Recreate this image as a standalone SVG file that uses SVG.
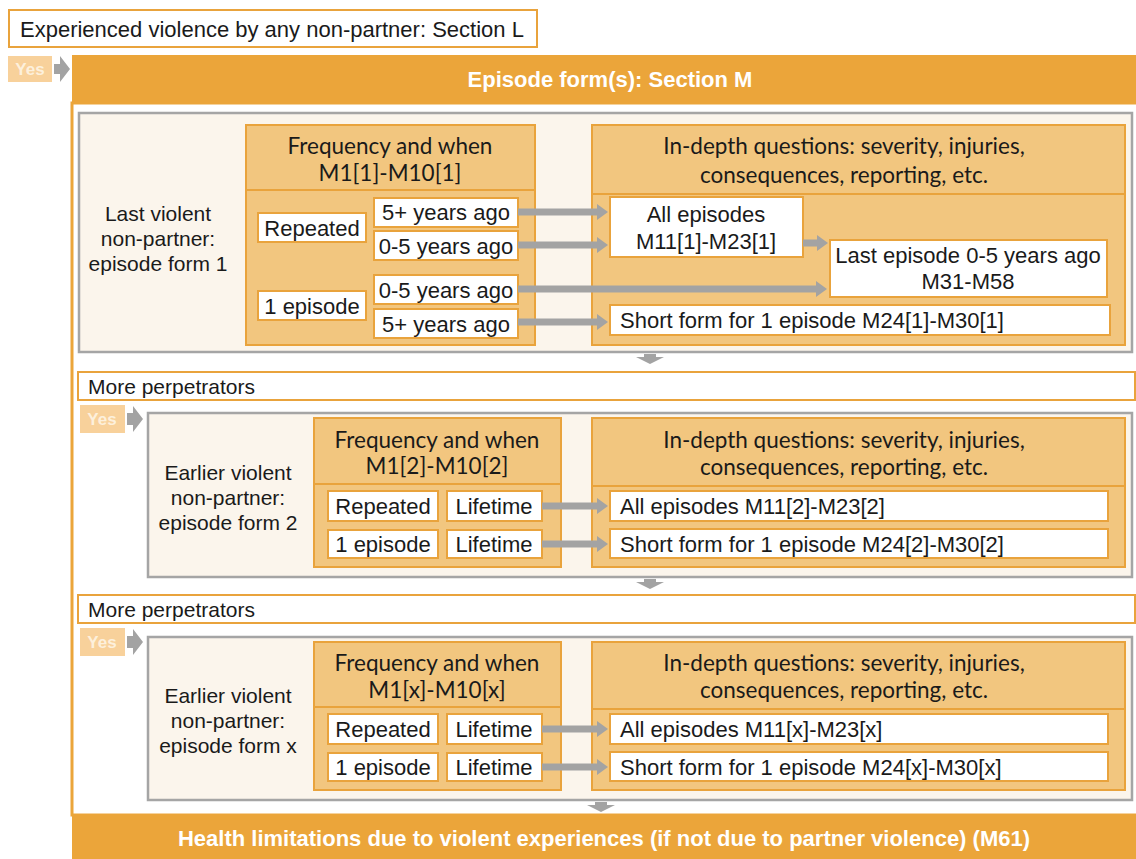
<svg xmlns="http://www.w3.org/2000/svg" width="1136" height="859" viewBox="0 0 1136 859">
<defs>
<style>
.t{font-family:"Liberation Sans",Arial,sans-serif;font-size:22px;fill:#1a1a1a}
.l{font-family:"Liberation Sans",Arial,sans-serif;font-size:21px;fill:#1a1a1a}
.c{font-family:Lato,"Open Sans",sans-serif;font-size:22.5px;fill:#1a1a1a}
.w{font-family:"Liberation Sans",Arial,sans-serif;font-weight:bold;fill:#ffffff}
.ob{fill:#ffffff;stroke:#e9a33c;stroke-width:2}
.sec{fill:#fbf5ec;stroke:#a5a5a5;stroke-width:2.5}
.grp{fill:#f2c67f;stroke:#e9a33c;stroke-width:2}
.div{stroke:#e9a33c;stroke-width:2}
.band{fill:#eba53a}
.yes{fill:#f8d19b}
.yt{font-family:"Liberation Sans",Arial,sans-serif;font-size:17px;font-weight:bold;fill:#fdf0dc}
.arr{stroke:#a3a3a3;stroke-width:7;fill:none}
.ga{fill:#a3a3a3}
</style>
<marker id="ah" markerUnits="userSpaceOnUse" markerWidth="12" markerHeight="18" refX="1" refY="9" orient="auto">
<path d="M0,1 L11,9 L0,17 Z" fill="#a3a3a3"/>
</marker>
</defs>
<rect width="1136" height="859" fill="#ffffff"/>

<g id="sectionL">
<rect class="ob" x="9" y="10" width="528" height="37"/>
<text class="t" x="20" y="37">Experienced violence by any non-partner: Section L</text>
</g>

<g id="yes1">
<rect class="yes" x="8" y="56" width="44" height="26"/>
<text class="yt" x="30" y="75" text-anchor="middle">Yes</text>
<path class="ga" d="M54,64 L60,64 L60,56 L70,69 L60,82 L60,74 L54,74 Z"/>
</g>

<g id="outer">
<rect x="72" y="103" width="1066" height="712" fill="#ffffff" stroke="#eba53a" stroke-width="3"/>
<rect class="band" x="72" y="55" width="1064" height="48"/>
<text class="w" x="610" y="87" font-size="22" text-anchor="middle">Episode form(s): Section M</text>
</g>

<g id="form1">
<rect class="sec" x="79" y="113" width="1053" height="239"/>
<text class="l" x="158" y="221" text-anchor="middle">Last violent</text>
<text class="l" x="158" y="246" text-anchor="middle">non-partner:</text>
<text class="l" x="158" y="271" text-anchor="middle">episode form 1</text>
</g>
<g id="freq1">
<rect class="grp" x="246" y="125" width="289" height="220"/>
<line class="div" x1="246" y1="190" x2="535" y2="190"/>
<text class="c" x="390" y="154" text-anchor="middle">Frequency and when</text>
<text class="c" x="390" y="181" text-anchor="middle">M1[1]-M10[1]</text>
<rect class="ob" x="258" y="213" width="108" height="29"/>
<text class="t" x="312" y="236" text-anchor="middle">Repeated</text>
<rect class="ob" x="374" y="198" width="144" height="29"/>
<text class="t" x="446" y="220" text-anchor="middle">5+ years ago</text>
<rect class="ob" x="374" y="231" width="144" height="29"/>
<text class="t" x="446" y="254" text-anchor="middle">0-5 years ago</text>
<rect class="ob" x="258" y="291" width="108" height="29"/>
<text class="t" x="312" y="314" text-anchor="middle">1 episode</text>
<rect class="ob" x="374" y="275" width="144" height="29"/>
<text class="t" x="446" y="298" text-anchor="middle">0-5 years ago</text>
<rect class="ob" x="374" y="309" width="144" height="29"/>
<text class="t" x="446" y="332" text-anchor="middle">5+ years ago</text>
</g>
<g id="depth1">
<rect class="grp" x="592" y="125" width="533" height="220"/>
<line class="div" x1="592" y1="194" x2="1125" y2="194"/>
<text class="c" x="844" y="154" text-anchor="middle">In-depth questions: severity, injuries,</text>
<text class="c" x="844" y="183" text-anchor="middle">consequences, reporting, etc.</text>
<rect class="ob" x="610" y="197" width="193" height="60"/>
<text class="t" x="706" y="222" text-anchor="middle">All episodes</text>
<text class="t" x="706" y="249" text-anchor="middle">M11[1]-M23[1]</text>
<rect class="ob" x="830" y="240" width="277" height="57"/>
<text class="t" x="968" y="263" text-anchor="middle">Last episode 0-5 years ago</text>
<text class="t" x="968" y="289" text-anchor="middle">M31-M58</text>
<rect class="ob" x="610" y="305" width="500" height="30"/>
<text class="t" x="620" y="328">Short form for 1 episode M24[1]-M30[1]</text>
</g>

<g id="more1">
<rect class="ob" x="78" y="372" width="1057" height="28"/>
<text class="l" x="88" y="394">More perpetrators</text>
</g>
<g id="yes2">
<rect class="yes" x="80" y="405" width="45" height="28"/>
<text class="yt" x="102" y="425" text-anchor="middle">Yes</text>
<path class="ga" d="M127,413 L133,413 L133,406 L143,419 L133,432 L133,425 L127,425 Z"/>
</g>

<g id="form2">
<rect class="sec" x="148" y="413" width="984" height="164"/>
<text class="l" x="228" y="480" text-anchor="middle">Earlier violent</text>
<text class="l" x="228" y="505" text-anchor="middle">non-partner:</text>
<text class="l" x="228" y="530" text-anchor="middle">episode form 2</text>
</g>
<g id="freq2">
<rect class="grp" x="314" y="418" width="247" height="149"/>
<line class="div" x1="314" y1="484" x2="561" y2="484"/>
<text class="c" x="437" y="448" text-anchor="middle">Frequency and when</text>
<text class="c" x="437" y="474" text-anchor="middle">M1[2]-M10[2]</text>
<rect class="ob" x="328" y="491" width="110" height="30"/>
<text class="t" x="383" y="514" text-anchor="middle">Repeated</text>
<rect class="ob" x="447" y="491" width="95" height="30"/>
<text class="t" x="494" y="514" text-anchor="middle">Lifetime</text>
<rect class="ob" x="328" y="530" width="110" height="28"/>
<text class="t" x="383" y="552" text-anchor="middle">1 episode</text>
<rect class="ob" x="447" y="530" width="95" height="28"/>
<text class="t" x="494" y="552" text-anchor="middle">Lifetime</text>
</g>
<g id="depth2">
<rect class="grp" x="592" y="418" width="533" height="149"/>
<line class="div" x1="592" y1="486" x2="1125" y2="486"/>
<text class="c" x="844" y="448" text-anchor="middle">In-depth questions: severity, injuries,</text>
<text class="c" x="844" y="475" text-anchor="middle">consequences, reporting, etc.</text>
<rect class="ob" x="610" y="491" width="498" height="30"/>
<text class="t" x="620" y="514">All episodes M11[2]-M23[2]</text>
<rect class="ob" x="610" y="529" width="498" height="29"/>
<text class="t" x="620" y="552">Short form for 1 episode M24[2]-M30[2]</text>
</g>

<g id="more2">
<rect class="ob" x="78" y="595" width="1057" height="28"/>
<text class="l" x="88" y="617">More perpetrators</text>
</g>
<g id="yes3">
<rect class="yes" x="80" y="628" width="45" height="28"/>
<text class="yt" x="102" y="648" text-anchor="middle">Yes</text>
<path class="ga" d="M127,636 L133,636 L133,629 L143,642 L133,655 L133,648 L127,648 Z"/>
</g>

<g id="formx">
<rect class="sec" x="148" y="637" width="984" height="163"/>
<text class="l" x="228" y="703" text-anchor="middle">Earlier violent</text>
<text class="l" x="228" y="728" text-anchor="middle">non-partner:</text>
<text class="l" x="228" y="753" text-anchor="middle">episode form x</text>
</g>
<g id="freqx">
<rect class="grp" x="314" y="642" width="247" height="148"/>
<line class="div" x1="314" y1="707" x2="561" y2="707"/>
<text class="c" x="437" y="671" text-anchor="middle">Frequency and when</text>
<text class="c" x="437" y="698" text-anchor="middle">M1[x]-M10[x]</text>
<rect class="ob" x="328" y="714" width="110" height="30"/>
<text class="t" x="383" y="737" text-anchor="middle">Repeated</text>
<rect class="ob" x="447" y="714" width="95" height="30"/>
<text class="t" x="494" y="737" text-anchor="middle">Lifetime</text>
<rect class="ob" x="328" y="753" width="110" height="28"/>
<text class="t" x="383" y="775" text-anchor="middle">1 episode</text>
<rect class="ob" x="447" y="753" width="95" height="28"/>
<text class="t" x="494" y="775" text-anchor="middle">Lifetime</text>
</g>
<g id="depthx">
<rect class="grp" x="592" y="642" width="533" height="148"/>
<line class="div" x1="592" y1="709" x2="1125" y2="709"/>
<text class="c" x="844" y="671" text-anchor="middle">In-depth questions: severity, injuries,</text>
<text class="c" x="844" y="698" text-anchor="middle">consequences, reporting, etc.</text>
<rect class="ob" x="610" y="714" width="498" height="30"/>
<text class="t" x="620" y="737">All episodes M11[x]-M23[x]</text>
<rect class="ob" x="610" y="752" width="498" height="29"/>
<text class="t" x="620" y="775">Short form for 1 episode M24[x]-M30[x]</text>
</g>

<g id="health">
<rect class="band" x="72" y="815" width="1064" height="44"/>
<text class="w" x="604" y="846" font-size="22" text-anchor="middle">Health limitations due to violent experiences (if not due to partner violence) (M61)</text>
</g>

<g id="connectors">
<line class="arr" x1="518" y1="212" x2="598" y2="212" marker-end="url(#ah)"/>
<line class="arr" x1="518" y1="245" x2="598" y2="245" marker-end="url(#ah)"/>
<line class="arr" x1="518" y1="289" x2="817" y2="289" marker-end="url(#ah)"/>
<line class="arr" x1="518" y1="322" x2="598" y2="322" marker-end="url(#ah)"/>
<line class="arr" x1="803" y1="243" x2="818" y2="243" stroke-width="5" marker-end="url(#ah)"/>
<line class="arr" x1="542" y1="506" x2="598" y2="506" marker-end="url(#ah)"/>
<line class="arr" x1="542" y1="544" x2="598" y2="544" marker-end="url(#ah)"/>
<line class="arr" x1="542" y1="729" x2="598" y2="729" marker-end="url(#ah)"/>
<line class="arr" x1="542" y1="767" x2="598" y2="767" marker-end="url(#ah)"/>
<path class="ga" d="M644,354 L656,354 L656,357 L664,357 L650,364 L636,357 L644,357 Z"/>
<path class="ga" d="M644,579 L656,579 L656,582 L664,582 L650,589 L636,582 L644,582 Z"/>
<path class="ga" d="M595,802 L607,802 L607,805 L615,805 L601,812 L587,805 L595,805 Z"/>
</g>
</svg>
